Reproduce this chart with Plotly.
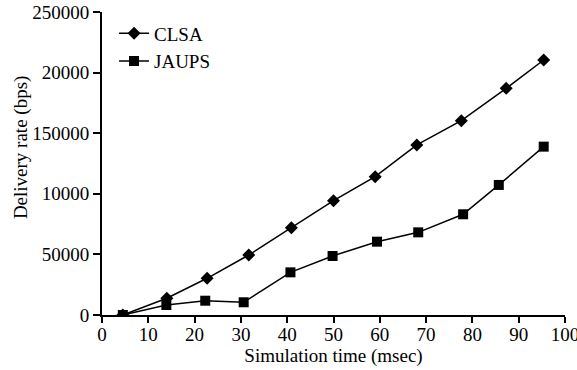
import plotly.graph_objects as go

time_clsa = [4.5, 14.0, 22.7, 31.7, 40.9, 50.0, 59.0, 68.0, 77.6, 87.3, 95.4]
rate_clsa = [0, 13800, 30300, 49500, 72000, 94300, 114100, 140300, 160300, 187000, 210400]

time_jaups = [4.5, 13.9, 22.3, 30.6, 40.7, 49.8, 59.4, 68.3, 78.0, 85.7, 95.4]
rate_jaups = [0, 8250, 11800, 10500, 35200, 48700, 60500, 68200, 83100, 107300, 138900]

y_tickvals = [0, 50000, 100000, 150000, 200000, 250000]
y_ticktext = ["0", "50000", "10000", "150000", "20000", "250000"]
x_tickvals = [0, 10, 20, 30, 40, 50, 60, 70, 80, 90, 100]

font = "Liberation Serif"
fs = 19

fig = go.Figure()
fig.add_trace(go.Scatter(
    x=time_clsa, y=rate_clsa, name="CLSA", mode="lines+markers",
    line=dict(color="black", width=1.5),
    marker=dict(symbol="diamond", size=10, color="black"),
))
fig.add_trace(go.Scatter(
    x=time_jaups, y=rate_jaups, name="JAUPS", mode="lines+markers",
    line=dict(color="black", width=1.5),
    marker=dict(symbol="square", size=10, color="black"),
))

fig.update_layout(
    width=577, height=370,
    margin=dict(l=102, r=12, t=12, b=55, autoexpand=False),
    paper_bgcolor="white", plot_bgcolor="white",
    font=dict(family=font, size=fs, color="black"),
    showlegend=True,
    legend=dict(x=0.026, y=0.992, xanchor="left", yanchor="top",
                bgcolor="rgba(0,0,0,0)", itemwidth=30,
                font=dict(family=font, size=fs)),
    xaxis=dict(range=[0, 100], tickvals=x_tickvals, showgrid=False, zeroline=False,
               showline=True, linecolor="black", linewidth=2,
               ticks="outside", ticklen=6, tickwidth=2, tickcolor="black",
               ticklabeloverflow="allow", automargin=False, ticklabelstandoff=-5,
               title=dict(text="Simulation time (msec)", standoff=2, font=dict(size=fs)),
               tickfont=dict(size=fs)),
    yaxis=dict(range=[0, 250000], tickvals=y_tickvals, ticktext=y_ticktext,
               showgrid=False, zeroline=False, automargin=False,
               showline=True, linecolor="black", linewidth=2,
               ticks="outside", ticklen=7, tickwidth=2, tickcolor="black",
               ticklabeloverflow="allow",
               tickfont=dict(size=fs)),
    annotations=[dict(text="Delivery rate (bps)", textangle=-90,
                      xref="paper", yref="paper", x=-0.175, y=0.554,
                      xanchor="center", yanchor="middle", showarrow=False,
                      font=dict(family=font, size=fs))],
)

fig.write_html("out.html", config={"displayModeBar": False},
               post_script="document.body.style.margin='0px';")
